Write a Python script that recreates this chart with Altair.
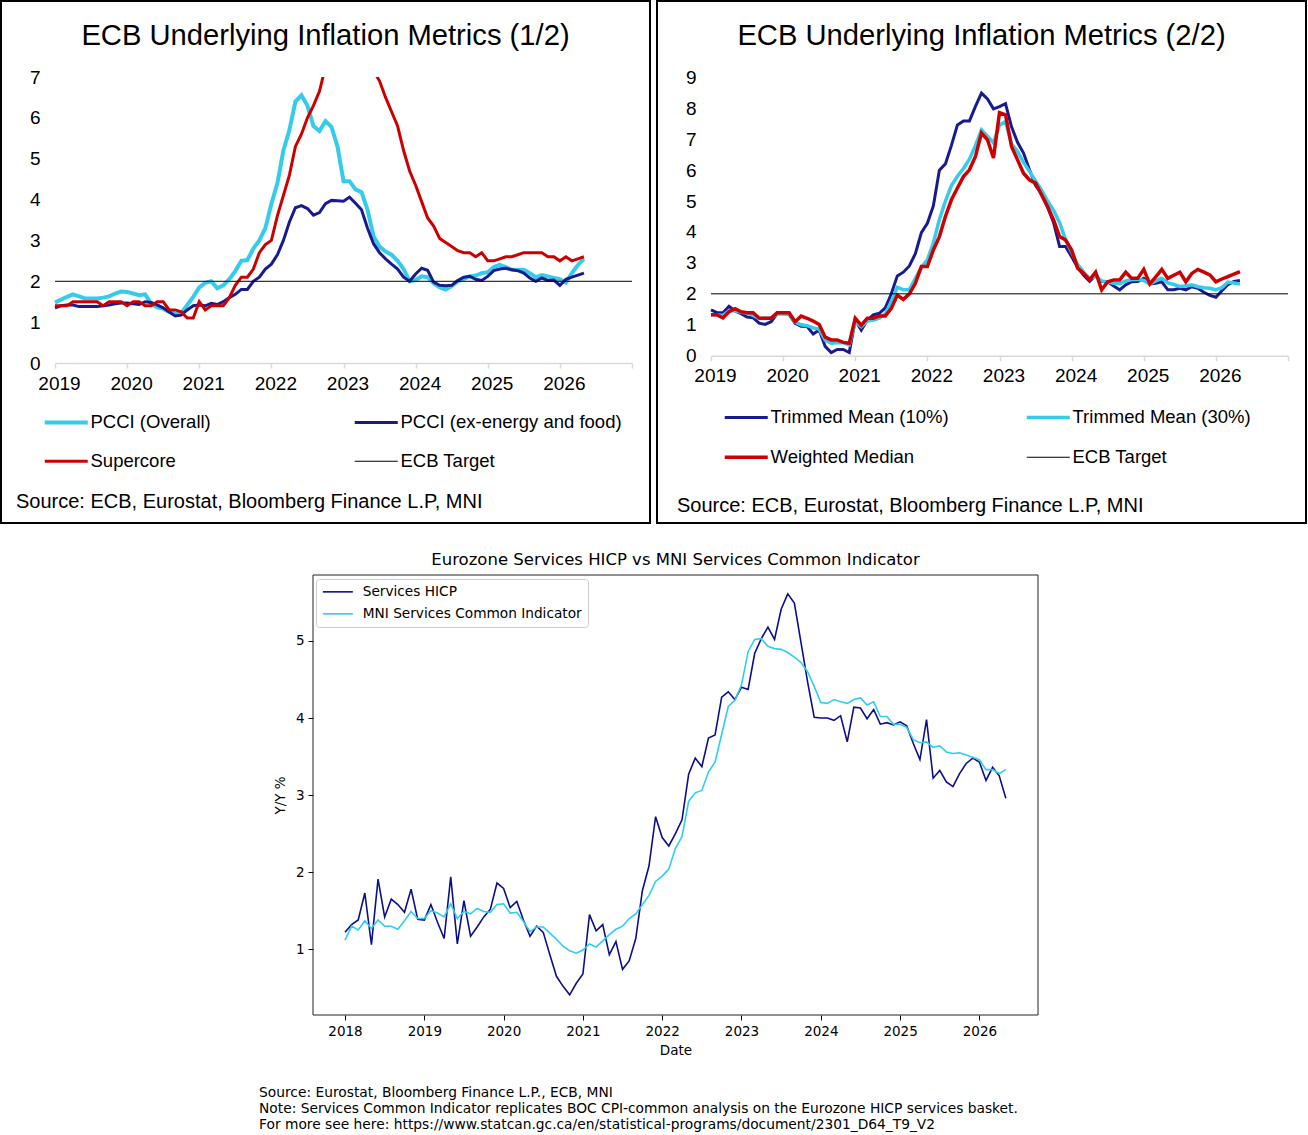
import altair as alt
import pandas as pd

XL_FONT = "Liberation Sans"
MPL_FONT = "DejaVu Sans"

# ---------------- Panel 1 (monthly, Jan 2019 ->) ----------------
p1_start_year = 2019
pcci_overall = [
    1.48, 1.55, 1.62, 1.68, 1.63, 1.58, 1.58, 1.58, 1.60, 1.63, 1.70, 1.75,
    1.74, 1.70, 1.66, 1.68, 1.45, 1.36, 1.33, 1.25, 1.20, 1.22, 1.42, 1.62,
    1.85, 1.96, 2.00, 1.83, 1.90, 2.05, 2.25, 2.50, 2.52, 2.80, 3.00, 3.30,
    3.90, 4.40, 5.20, 5.70, 6.40, 6.55, 6.30, 5.80, 5.68, 5.92, 5.78, 5.30,
    4.45, 4.45, 4.25, 4.18, 3.75, 3.10, 2.85, 2.73, 2.65, 2.50, 2.30, 2.00,
    2.03, 2.12, 2.10, 1.95, 1.85, 1.80, 1.88, 2.00, 2.06, 2.12, 2.14, 2.20,
    2.22, 2.35, 2.40, 2.35, 2.28, 2.28, 2.28, 2.20, 2.10, 2.15, 2.12, 2.08,
    2.05, 1.97, 2.20, 2.40, 2.55,
]
pcci_core = [
    1.35, 1.40, 1.42, 1.42, 1.38, 1.38, 1.38, 1.38, 1.40, 1.42, 1.45, 1.47,
    1.47, 1.45, 1.43, 1.50, 1.48, 1.42, 1.35, 1.25, 1.15, 1.17, 1.30, 1.40,
    1.42, 1.40, 1.46, 1.43, 1.50, 1.60, 1.68, 1.80, 1.80, 2.00, 2.10, 2.30,
    2.42, 2.65, 3.00, 3.45, 3.80, 3.85, 3.78, 3.62, 3.68, 3.90, 3.98, 3.97,
    3.96, 4.06, 3.91, 3.75, 3.30, 2.92, 2.70, 2.55, 2.42, 2.30, 2.10, 2.00,
    2.18, 2.32, 2.27, 1.98, 1.90, 1.89, 1.90, 2.02, 2.10, 2.12, 2.05, 2.02,
    2.12, 2.26, 2.30, 2.32, 2.28, 2.26, 2.20, 2.08, 2.00, 2.08, 2.02, 2.03,
    1.90, 2.05, 2.10, 2.15, 2.20,
]
supercore = [
    1.40, 1.40, 1.40, 1.50, 1.50, 1.50, 1.50, 1.50, 1.40, 1.50, 1.50, 1.50,
    1.40, 1.50, 1.50, 1.40, 1.40, 1.50, 1.50, 1.30, 1.30, 1.25, 1.10, 1.10,
    1.50, 1.30, 1.40, 1.40, 1.40, 1.60, 1.90, 2.10, 2.10, 2.30, 2.70, 2.90,
    3.00, 3.60, 4.10, 4.60, 5.30, 5.60, 6.00, 6.30, 6.65, 7.25, 7.80, 8.10,
    8.20, 8.10, 7.95, 7.75, 7.45, 7.15, 6.90, 6.50, 6.15, 5.80, 5.20, 4.70,
    4.35, 3.95, 3.55, 3.35, 3.05, 2.95, 2.85, 2.75, 2.70, 2.70, 2.60, 2.70,
    2.50, 2.50, 2.55, 2.60, 2.60, 2.65, 2.70, 2.70, 2.70, 2.70, 2.60, 2.60,
    2.50, 2.60, 2.50, 2.55, 2.60,
]

# ---------------- Panel 2 (monthly, Jan 2019 ->) ----------------
p2_start_year = 2019
trimmed_10 = [
    1.48, 1.39, 1.39, 1.60, 1.45, 1.36, 1.25, 1.23, 1.05, 1.01, 1.10, 1.35,
    1.38, 1.33, 1.05, 0.95, 0.94, 0.70, 0.83, 0.30, 0.10, 0.20, 0.20, 0.10,
    1.15, 0.83, 1.15, 1.32, 1.37, 1.55, 2.00, 2.58, 2.70, 2.90, 3.30, 3.98,
    4.28, 4.85, 6.00, 6.20, 6.80, 7.46, 7.59, 7.59, 8.06, 8.49, 8.30, 7.98,
    8.05, 8.15, 7.40, 6.90, 6.55, 6.00, 5.50, 5.25, 4.80, 4.30, 3.53, 3.53,
    3.20, 2.85, 2.60, 2.40, 2.60, 2.40, 2.39, 2.25, 2.13, 2.29, 2.39, 2.40,
    2.50, 2.32, 2.34, 2.39, 2.13, 2.13, 2.18, 2.13, 2.23, 2.18, 2.05, 1.95,
    1.89, 2.10, 2.30, 2.40, 2.43,
]
trimmed_30 = [
    1.32, 1.32, 1.30, 1.45, 1.45, 1.40, 1.38, 1.30, 1.20, 1.20, 1.22, 1.35,
    1.35, 1.35, 1.08, 1.00, 0.97, 0.90, 0.86, 0.50, 0.40, 0.42, 0.42, 0.35,
    1.10, 0.94, 1.12, 1.15, 1.21, 1.35, 1.75, 2.21, 2.13, 2.13, 2.50, 2.85,
    3.10, 3.65, 4.40, 5.00, 5.50, 5.80, 6.05, 6.35, 6.80, 7.30, 7.10, 6.88,
    7.45, 7.57, 6.85, 6.60, 6.25, 5.95, 5.65, 5.35, 5.00, 4.70, 4.30, 3.75,
    3.35, 2.95, 2.70, 2.50, 2.56, 2.42, 2.38, 2.34, 2.33, 2.42, 2.46, 2.47,
    2.43, 2.32, 2.42, 2.50, 2.35, 2.30, 2.24, 2.25, 2.29, 2.23, 2.20, 2.18,
    2.13, 2.20, 2.38, 2.35, 2.32,
]
weighted_median = [
    1.32, 1.32, 1.22, 1.42, 1.52, 1.42, 1.39, 1.39, 1.22, 1.21, 1.21, 1.39,
    1.39, 1.39, 1.10, 1.28, 1.21, 1.12, 1.01, 0.60, 0.51, 0.51, 0.43, 0.40,
    1.21, 0.99, 1.21, 1.21, 1.28, 1.28, 1.53, 1.96, 1.82, 2.00, 2.34, 2.88,
    2.88, 3.42, 3.85, 4.50, 5.04, 5.42, 5.79, 6.01, 6.44, 7.20, 6.98, 6.39,
    7.86, 7.79, 6.76, 6.33, 5.90, 5.68, 5.58, 5.20, 4.82, 4.39, 3.85, 3.74,
    3.42, 2.83, 2.66, 2.45, 2.70, 2.13, 2.39, 2.45, 2.45, 2.70, 2.50, 2.50,
    2.79, 2.32, 2.55, 2.79, 2.50, 2.60, 2.70, 2.39, 2.66, 2.79, 2.70, 2.61,
    2.39, 2.48, 2.56, 2.64, 2.72,
]

# ECB target line (both top panels)
target_years = [2019, 2027]
target_values = [2.0, 2.0]

# ---------------- Panel 3 (monthly, Jan 2018 ->) ----------------
p3_start_year = 2018
services_hicp = [
    1.22, 1.32, 1.38, 1.73, 1.06, 1.91, 1.42, 1.65, 1.58, 1.48, 1.78, 1.39,
    1.38, 1.58, 1.35, 1.14, 1.94, 1.07, 1.63, 1.17, 1.29, 1.42, 1.52, 1.86,
    1.79, 1.54, 1.62, 1.38, 1.17, 1.30, 1.22, 0.93, 0.65, 0.52, 0.41, 0.56,
    0.68, 1.45, 1.24, 1.32, 0.93, 1.10, 0.74, 0.85, 1.14, 1.76, 2.08, 2.72,
    2.45, 2.34, 2.50, 2.68, 3.27, 3.48, 3.37, 3.74, 3.78, 4.27, 4.34, 4.24,
    4.40, 4.37, 4.84, 5.03, 5.18, 5.02, 5.41, 5.61, 5.49, 4.98, 4.47, 4.01,
    4.00, 4.00, 3.97, 4.03, 3.69, 4.14, 4.13, 3.99, 4.11, 3.92, 3.94, 3.91,
    3.95, 3.90, 3.67, 3.46, 3.98, 3.22, 3.32, 3.17, 3.11, 3.28, 3.41, 3.48,
    3.43, 3.19, 3.36, 3.25, 2.96,
]
mni_common = [
    1.12, 1.30, 1.25, 1.37, 1.27, 1.38, 1.30, 1.30, 1.26, 1.37, 1.49, 1.40,
    1.40, 1.50, 1.47, 1.42, 1.59, 1.40, 1.49, 1.46, 1.53, 1.49, 1.48, 1.58,
    1.59, 1.47, 1.48, 1.36, 1.23, 1.29, 1.29, 1.21, 1.13, 1.04, 0.98, 0.95,
    0.99, 1.07, 1.03, 1.11, 1.19, 1.26, 1.30, 1.40, 1.46, 1.58, 1.70, 1.88,
    1.95, 2.04, 2.31, 2.46, 2.92, 3.03, 3.06, 3.30, 3.43, 3.79, 4.15, 4.23,
    4.43, 4.86, 5.02, 5.03, 4.93, 4.90, 4.89, 4.85, 4.79, 4.72, 4.60, 4.41,
    4.20, 4.19, 4.24, 4.21, 4.19, 4.24, 4.26, 4.17, 4.21, 4.02, 4.02, 3.92,
    3.92, 3.88, 3.72, 3.68, 3.69, 3.62, 3.64, 3.56, 3.54, 3.55, 3.52, 3.49,
    3.46, 3.33, 3.33, 3.28, 3.33,
]

p1_names = ["PCCI (Overall)", "PCCI (ex-energy and food)", "Supercore", "ECB Target"]
p1_colors = ["#35CBEB", "#1A1A8F", "#CC0000", "#000000"]
p1_widths = [4, 3, 3, 1]
p2_names = ["Trimmed Mean (10%)", "Trimmed Mean (30%)", "Weighted Median", "ECB Target"]
p2_colors = ["#1A1A8F", "#35CBEB", "#CC0000", "#000000"]
p2_widths = [3, 3.5, 3.5, 1]
p3_names = ["Services HICP", "MNI Services Common Indicator"]
p3_colors = ["#0E0E88", "#30CDEF"]

title_1 = "ECB Underlying Inflation Metrics (1/2)"
title_2 = "ECB Underlying Inflation Metrics (2/2)"
title_3 = "Eurozone Services HICP vs MNI Services Common Indicator"
source_top = "Source: ECB, Eurostat, Bloomberg Finance L.P, MNI"
footnote = ("Source: Eurostat, Bloomberg Finance L.P., ECB, MNI\n"
            "Note: Services Common Indicator replicates BOC CPI-common analysis on the Eurozone HICP services basket.\n"
            "For more see here: https://www.statcan.gc.ca/en/statistical-programs/document/2301_D64_T9_V2")


def monthly_frame(start_year, named):
    rows = []
    for name, vals in named:
        for i, v in enumerate(vals):
            rows.append({"year": start_year + i / 12.0, "value": v, "series": name})
    return pd.DataFrame(rows)


def target_frame():
    return pd.DataFrame({"year": target_years, "value": target_values, "series": "ECB Target"})


def text_layer(text, x, y, font, size, align="left", baseline="middle", **kw):
    return alt.Chart(pd.DataFrame({"t": [text]})).mark_text(
        align=align, baseline=baseline, font=font, fontSize=size, color="black", **kw
    ).encode(text="t:N", x=alt.value(x), y=alt.value(y))


PW, PH = 649, 522  # top panel box size


def width_expr(names, widths):
    expr = str(widths[-1])
    for n, w in reversed(list(zip(names[:-1], widths[:-1]))):
        expr = f"datum.value == '{n}' ? {w} : ({expr})"
    return expr


def top_panel(df, names, colors, widths, ymax, y_px, title, legend_x, legend_y,
              col_pad, row_pad, src_x, src_y, cover=None):
    xscale = alt.Scale(domain=[2019, 2027], range=[54, 631], nice=False, zero=False)
    yscale = alt.Scale(domain=[0, ymax], range=y_px, nice=False, zero=False)
    xaxis = alt.Axis(orient="bottom", offset=y_px[0] - PH, values=list(range(2019, 2028)),
                     format="d", labelExpr="datum.value < 2027 ? datum.label : ''",
                     domainColor="#D9D9D9", domainWidth=1.5, tickColor="#D9D9D9",
                     tickWidth=1.5, tickSize=5, labelFont=XL_FONT, labelFontSize=19,
                     labelColor="black", labelPadding=6, labelOffset=4, labelFlush=False,
                     labelOverlap=False, grid=False, title=None)
    yaxis = alt.Axis(orient="left", offset=-44, values=list(range(0, ymax + 1)), domain=False,
                     ticks=False, tickSize=0, labelPadding=5, labelFont=XL_FONT,
                     labelFontSize=19, labelColor="black", labelFlush=False,
                     labelOverlap=False, grid=False, title=None)
    legend = alt.Legend(orient="none", legendX=legend_x, legendY=legend_y, columns=2,
                        direction="horizontal",
                        columnPadding=col_pad, rowPadding=row_pad, title=None,
                        symbolType="stroke", symbolSize=43 * 43,
                        symbolStrokeWidth={"expr": width_expr(names, widths)},
                        labelFont=XL_FONT, labelFontSize=18.5, labelColor="black",
                        labelOffset=15, labelLimit=400, padding=0)
    color = alt.Color("series:N", scale=alt.Scale(domain=names, range=colors), legend=legend)
    base = alt.Chart(df).encode(x=alt.X("year:Q", scale=xscale, axis=xaxis),
                                y=alt.Y("value:Q", scale=yscale, axis=yaxis), color=color)
    layers = [base.transform_filter(alt.datum.series == n).mark_line(strokeWidth=w)
              for n, w in zip(names, widths)]
    if cover is not None:
        cdf = pd.DataFrame({"year": [cover[0]], "year2": [cover[1]],
                            "value": [cover[2]], "value2": [cover[3]]})
        layers.append(alt.Chart(cdf).mark_rect(color="white").encode(
            x=alt.X("year:Q", scale=xscale, axis=xaxis), x2="year2:Q",
            y=alt.Y("value:Q", scale=yscale, axis=yaxis), y2="value2:Q"))
    layers.append(text_layer(title, PW / 2, 35, XL_FONT, 29.2, align="center"))
    layers.append(text_layer(source_top, src_x, src_y, XL_FONT, 20))
    return alt.layer(*layers).properties(
        width=PW, height=PH,
        view=alt.ViewBackground(stroke="black", strokeWidth=2, fill="white"),
    )


df1 = pd.concat([monthly_frame(p1_start_year, [(p1_names[0], pcci_overall),
                                               (p1_names[1], pcci_core),
                                               (p1_names[2], supercore)]),
                 target_frame()], ignore_index=True)
df2 = pd.concat([monthly_frame(p2_start_year, [(p2_names[0], trimmed_10),
                                               (p2_names[1], trimmed_30),
                                               (p2_names[2], weighted_median)]),
                 target_frame()], ignore_index=True)

p1 = top_panel(df1, p1_names, p1_colors, p1_widths, 7, [362, 76], title_1,
               56, 412, 137, 20, 15, 501, cover=(2022.5, 2024.3, 7.0, 8.7))
p2 = top_panel(df2, p2_names, p2_colors, p2_widths, 9, [354.7, 76.3], title_2,
               80, 407, 70, 21, 20, 505)

# ---------------- Panel 3 ----------------
P3W, P3H = 1306, 609
df3 = monthly_frame(p3_start_year, [(p3_names[0], services_hicp), (p3_names[1], mni_common)])
x_dom = [2017.5965, 2026.739]
y_dom = [0.148, 5.855]
x3 = alt.Scale(domain=x_dom, range=[312, 1037], nice=False, zero=False)
y3 = alt.Scale(domain=y_dom, range=[490, 50], nice=False, zero=False)
x3axis = alt.Axis(orient="bottom", offset=490 - P3H, values=list(range(2018, 2027)), format="d",
                  domain=False, tickColor="black", tickSize=5, tickWidth=1,
                  labelFont=MPL_FONT, labelFontSize=13.5, labelColor="black", labelPadding=4,
                  labelFlush=False, labelOverlap=False, grid=False, title="Date",
                  titleFont=MPL_FONT, titleFontSize=13.5, titleFontWeight="normal",
                  titleColor="black", titlePadding=6)
y3axis = alt.Axis(orient="left", offset=-312, values=[1, 2, 3, 4, 5], domain=False,
                  tickColor="black", tickSize=5, tickWidth=1, labelFont=MPL_FONT,
                  labelFontSize=13.5, labelColor="black", labelPadding=4, labelFlush=False,
                  labelOverlap=False, grid=False, title="Y/Y %", titleFont=MPL_FONT,
                  titleFontSize=13.5, titleFontWeight="normal", titleColor="black",
                  titlePadding=8)
legend3 = alt.Legend(orient="none", legendX=315, legendY=54, title=None,
                     symbolType="M-3,0H3", symbolSize=100, symbolOffset=9,
                     symbolStrokeWidth=1.6, labelFont=MPL_FONT,
                     labelFontSize=13.7, labelColor="black", labelOffset=18, rowPadding=7,
                     padding=6, strokeColor="#cccccc", fillColor="rgba(255,255,255,0.8)",
                     cornerRadius=3, labelLimit=400)
color3 = alt.Color("series:N", scale=alt.Scale(domain=p3_names, range=p3_colors), legend=legend3)
base3 = alt.Chart(df3).encode(x=alt.X("year:Q", scale=x3, axis=x3axis),
                              y=alt.Y("value:Q", scale=y3, axis=y3axis), color=color3)
lines3 = [base3.transform_filter(alt.datum.series == n).mark_line(strokeWidth=1.6)
          for n in p3_names]
frame3 = alt.Chart(pd.DataFrame({"year": [x_dom[0]], "year2": [x_dom[1]],
                                 "value": [y_dom[0]], "value2": [y_dom[1]]})).mark_rect(
    fill="transparent", stroke="#222222", strokeWidth=1).encode(
    x=alt.X("year:Q", scale=x3, axis=x3axis), x2="year2:Q",
    y=alt.Y("value:Q", scale=y3, axis=y3axis), y2="value2:Q")
title3 = text_layer(title_3, 674.5, 35, MPL_FONT, 16.5, align="center")
notes = text_layer(footnote, 258, 561, MPL_FONT, 13.8, baseline="top",
                   lineBreak="\n", lineHeight=16)

p3 = alt.layer(*lines3, frame3, title3, notes).properties(
    width=P3W, height=P3H,
    view=alt.ViewBackground(stroke="transparent", strokeWidth=0, fill="white"),
)

top = alt.hconcat(p1, p2, spacing=5).resolve_scale(color="independent").resolve_legend(
    color="independent")
chart = alt.vconcat(top, p3, spacing=1).resolve_scale(color="independent").resolve_legend(
    color="independent").properties(
    padding=0,
    autosize=alt.AutoSizeParams(type="pad"),
    background="white",
)

chart.save("out.html", embed_options={"renderer": "svg", "actions": False})
